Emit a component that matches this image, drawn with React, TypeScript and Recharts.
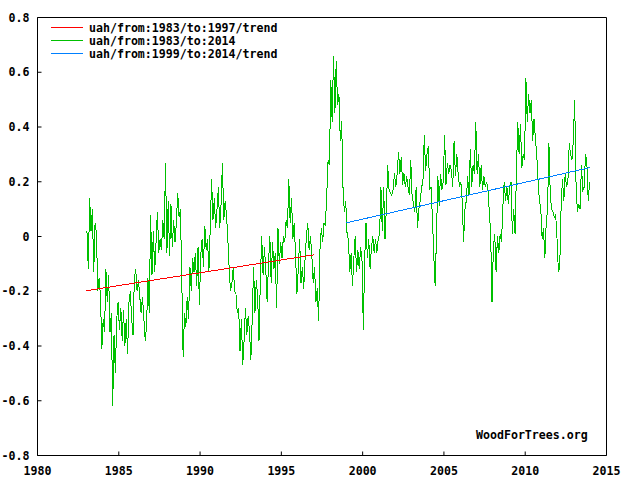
import { LineChart, Line, XAxis, YAxis, Legend } from 'recharts';

// UAH lower troposphere anomalies, monthly Jan..Dec, one row per year (1983-2013)
const firstYear = 1983;
const uahMonthly: number[][] = [
  [0.02, -0.12, 0.14, 0.02, 0.10, -0.13, 0.05, 0.01, -0.20, -0.15, -0.22, -0.41], // 1983
  [-0.30, -0.35, -0.12, -0.24, -0.14, -0.35, -0.28, -0.62, -0.36, -0.50, -0.30, -0.24], // 1984
  [-0.34, -0.26, -0.38, -0.27, -0.40, -0.30, -0.43, -0.24, -0.20, -0.30, -0.36, -0.15], // 1985
  [-0.12, -0.20, -0.16, -0.22, -0.28, -0.22, -0.30, -0.38, -0.33, -0.15, -0.28, 0.08], // 1986
  [-0.14, 0.02, -0.13, -0.02, 0.09, -0.06, -0.01, -0.05, 0.06, -0.01, 0.27, -0.06], // 1987
  [0.13, -0.07, 0.12, -0.04, 0.06, -0.02, 0.05, 0.16, 0.07, 0.10, -0.16, -0.44], // 1988
  [-0.28, -0.33, -0.22, -0.30, -0.11, -0.20, -0.08, -0.13, -0.06, -0.18, -0.04, -0.25], // 1989
  [-0.07, -0.01, -0.11, 0.04, -0.05, -0.01, -0.13, 0.03, 0.21, 0.06, 0.14, 0.03], // 1990
  [0.10, 0.18, 0.03, 0.12, 0.27, 0.06, 0.13, 0.08, -0.01, -0.12, -0.20, -0.17], // 1991
  [-0.11, -0.20, -0.21, -0.28, -0.26, -0.42, -0.30, -0.47, -0.38, -0.26, -0.36, -0.29], // 1992
  [-0.35, -0.45, -0.30, -0.11, -0.28, -0.16, -0.22, -0.38, -0.16, 0.00, -0.14, -0.04], // 1993
  [-0.12, -0.24, -0.10, 0.00, -0.17, -0.02, -0.12, -0.06, -0.26, 0.03, -0.10, -0.02], // 1994
  [-0.08, 0.00, -0.02, 0.06, 0.03, 0.21, 0.05, 0.14, -0.01, 0.05, -0.07, -0.21], // 1995
  [-0.12, -0.01, -0.17, -0.11, -0.19, -0.08, 0.00, 0.05, -0.05, 0.00, -0.07, -0.17], // 1996
  [-0.11, -0.24, -0.19, -0.31, -0.05, 0.03, -0.02, 0.05, 0.04, 0.15, 0.28, 0.26], // 1997
  [0.57, 0.42, 0.66, 0.45, 0.64, 0.48, 0.52, 0.35, 0.42, 0.18, 0.09, 0.13], // 1998
  [0.01, -0.01, -0.13, -0.06, -0.18, -0.08, 0.00, -0.13, -0.05, -0.12, -0.04, -0.08], // 1999
  [-0.34, -0.08, 0.05, -0.08, -0.01, -0.12, -0.04, 0.00, -0.06, -0.01, -0.06, -0.01], // 2000
  [0.01, 0.18, 0.02, 0.18, -0.01, 0.10, 0.26, 0.17, 0.16, 0.15, 0.17, 0.23], // 2001
  [0.18, 0.23, 0.31, 0.23, 0.29, 0.19, 0.23, 0.18, 0.22, 0.18, 0.15, 0.28], // 2002
  [0.15, 0.12, 0.09, 0.18, 0.03, 0.10, 0.13, 0.18, 0.20, 0.37, 0.24, 0.30], // 2003
  [0.33, 0.17, 0.18, 0.07, -0.07, -0.18, 0.00, 0.22, 0.11, 0.23, 0.17, 0.20], // 2004
  [0.37, 0.19, 0.27, 0.23, 0.26, 0.24, 0.18, 0.35, 0.22, 0.30, 0.23, 0.18], // 2005
  [0.20, 0.13, -0.02, 0.10, 0.13, 0.22, 0.15, 0.32, 0.18, 0.26, 0.23, 0.42], // 2006
  [0.23, 0.30, 0.18, 0.26, 0.17, 0.22, 0.18, 0.20, 0.17, 0.09, 0.01, -0.24], // 2007
  [-0.04, 0.01, -0.13, 0.00, -0.06, 0.01, -0.02, 0.11, 0.20, 0.13, 0.18, 0.12], // 2008
  [0.18, 0.20, 0.01, 0.10, 0.01, 0.23, 0.42, 0.30, 0.41, 0.25, 0.30, 0.28], // 2009
  [0.58, 0.42, 0.52, 0.45, 0.50, 0.35, 0.43, 0.36, 0.30, 0.20, 0.13, 0.10], // 2010
  [-0.01, 0.03, -0.08, 0.05, 0.10, 0.34, 0.15, 0.10, 0.09, 0.07, 0.08, -0.01], // 2011
  [-0.13, -0.11, 0.11, 0.21, 0.13, 0.23, 0.18, 0.20, 0.34, 0.30, 0.28, 0.35], // 2012
  [0.50, 0.20, 0.09, 0.12, 0.10, 0.26, 0.17, 0.18, 0.30, 0.27, 0.13, 0.20], // 2013
];

// linear trends as drawn (start / end)
const trend1Years = [1983, 1997];
const trend1Values = [-0.198, -0.067];
const trend2Years = [1999, 2014];
const trend2Values = [0.05, 0.252];

const yearTicks = [1980, 1985, 1990, 1995, 2000, 2005, 2010, 2015];
const valueTicks = [-0.8, -0.6, -0.4, -0.2, 0, 0.2, 0.4, 0.6, 0.8];

const legendLabels = ['uah/from:1983/to:1997/trend', 'uah/from:1983/to:2014', 'uah/from:1999/to:2014/trend'];
const legendColors = ['#ff0000', '#00c000', '#0080ff'];

const monthly = uahMonthly.flatMap((row, i) =>
  row.map((v, m) => ({ t: firstYear + i + (m + 0.5) / 12, v }))
);
const trend1 = trend1Years.map((t, i) => ({ t, v: trend1Values[i] }));
const trend2 = trend2Years.map((t, i) => ({ t, v: trend2Values[i] }));

const font = { fill: '#000', fontSize: 11.6, fontFamily: 'DejaVu Sans Mono', fontWeight: 'bold' as const };

const renderLegend = () => (
  <svg width={300} height={64} style={{ display: 'block' }}>
    {legendLabels.map((label, i) => (
      <g key={label}>
        <line x1={51} x2={83} y1={27.5 + i * 13} y2={27.5 + i * 13} stroke={legendColors[i]} strokeWidth={1} shapeRendering="crispEdges" />
        <text x={89} y={27.5 + i * 13} dominantBaseline="central" {...font}>{label}</text>
      </g>
    ))}
  </svg>
);

const App = () => {
  return (
    <div style={{ position: 'absolute', left: 0, top: 0, width: 634, height: 488, background: '#fff' }}>
      <LineChart width={634} height={488} margin={{ top: 16.5, right: 26.5, bottom: 0, left: 0 }}>
        <XAxis xAxisId="b" type="number" dataKey="t" domain={[1980, 2015]} ticks={yearTicks} interval={0}
          height={32.5} tickSize={-4} tickMargin={15.5} stroke="#000" tick={font} allowDataOverflow />
        <XAxis xAxisId="t" orientation="top" type="number" dataKey="t" domain={[1980, 2015]} ticks={yearTicks}
          interval={0} height={1} tickSize={-4} tick={false} stroke="#000" />
        <YAxis yAxisId="l" type="number" domain={[-0.8, 0.8]} ticks={valueTicks} interval={0} width={37.5}
          tickSize={-4} tickMargin={12} stroke="#000" tick={font}
          tickFormatter={(v: number) => (v === 0 ? '0' : v.toFixed(1))} />
        <YAxis yAxisId="r" orientation="right" type="number" domain={[-0.8, 0.8]} ticks={valueTicks} interval={0}
          width={1} tickSize={-4} tick={false} stroke="#000" />
        <Legend layout="vertical" align="center" verticalAlign="middle" wrapperStyle={{ left: 0, top: 0 }} content={renderLegend} />
        <Line xAxisId="b" yAxisId="l" data={monthly} dataKey="v" type="linear" stroke="#00c000" strokeWidth={1}
          dot={false} isAnimationActive={false} name={legendLabels[1]} shapeRendering="crispEdges" />
        <Line xAxisId="b" yAxisId="l" data={trend1} dataKey="v" type="linear" stroke="#ff0000" strokeWidth={1}
          dot={false} isAnimationActive={false} name={legendLabels[0]} shapeRendering="crispEdges" />
        <Line xAxisId="b" yAxisId="l" data={trend2} dataKey="v" type="linear" stroke="#0080ff" strokeWidth={1}
          dot={false} isAnimationActive={false} name={legendLabels[2]} shapeRendering="crispEdges" />
      </LineChart>
      <div style={{ position: 'absolute', left: 476, top: 428, fontSize: 11.6, fontFamily: 'DejaVu Sans Mono', fontWeight: 'bold', color: '#000', lineHeight: '14px' }}>
        WoodForTrees.org
      </div>
    </div>
  );
};

export default App;
